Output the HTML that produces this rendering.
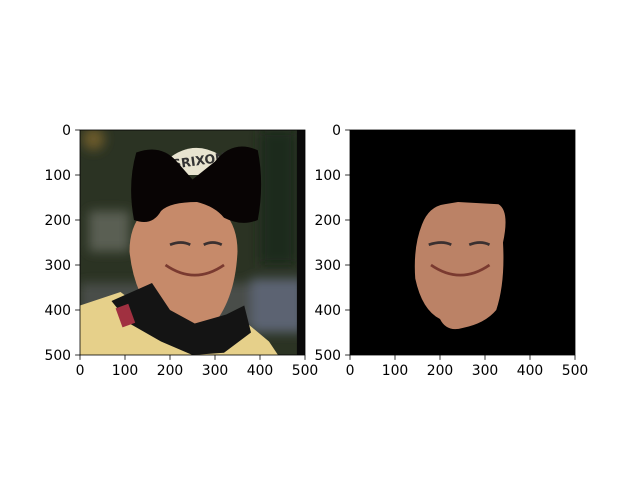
<!DOCTYPE html>
<html><head><meta charset="utf-8"><style>
body{margin:0;background:#fff}
svg text{font-family:"DejaVu Sans","Liberation Sans",sans-serif;font-size:13.9px;fill:#000}
</style></head><body>
<svg id="fig" width="640" height="480">
<defs>
<filter id="blur" x="-20%" y="-20%" width="140%" height="140%"><feGaussianBlur stdDeviation="12"/></filter>
<clipPath id="clipL"><rect x="0" y="0" width="500" height="500"/></clipPath>
</defs>
<g id="axL" transform="translate(80,130) scale(0.45)">
 <g clip-path="url(#clipL)">
  <rect width="500" height="500" fill="#2b3323"/>
  <g filter="url(#blur)">
   <rect x="20" y="180" width="90" height="90" fill="#5a5e52"/>
   <rect x="0" y="340" width="500" height="100" fill="#4a4d4a"/>
   <rect x="380" y="330" width="120" height="120" fill="#5c6472"/>
   <circle cx="30" cy="20" r="25" fill="#6a5a2a"/>
   <rect x="400" y="0" width="80" height="300" fill="#1e2a1c"/>
  </g>
  <rect x="482" y="0" width="18" height="500" fill="#0a0a0a"/>
  <path d="M110,270 Q110,160 230,140 Q350,160 350,270 Q345,380 290,440 Q235,470 180,430 Q120,370 110,270Z" fill="#c68a6a"/>
  <path d="M0,390 L90,360 L170,420 L260,480 L360,420 L420,470 L440,500 L0,500Z" fill="#e6d08a"/>
  <path d="M70,380 L160,340 L200,400 L255,430 L325,410 L365,390 L380,450 L320,495 L250,500 L180,470 L110,430Z" fill="#141414"/>
  <rect x="85" y="390" width="30" height="45" fill="#a03040" transform="rotate(-20 100 410)"/>
  <path d="M195,65 Q250,20 310,55 L300,100 L200,100Z" fill="#e8e4d0"/>
  <text x="205" y="80" style="font-size:28px;font-weight:bold;fill:#333" transform="rotate(-8 250 75)">SRIXON</text>
  <path d="M125,50 Q180,30 215,70 L250,110 L300,70 Q340,20 395,45 Q410,120 395,200 Q360,215 320,195 Q300,170 260,160 Q200,160 180,180 Q160,215 120,200 Q105,120 125,50Z" fill="#080404"/>
  <path d="M200,255 Q225,245 245,255 M275,255 Q295,245 315,255" stroke="#3a3030" stroke-width="6" fill="none"/>
  <path d="M190,300 Q255,345 320,300" stroke="#7a3a30" stroke-width="6" fill="none"/>
 </g>
</g>
<g id="axR" transform="translate(350,130) scale(0.45)">
 <rect width="500" height="500" fill="#000"/>
 <path d="M160,210 Q175,170 210,165 L240,160 L330,165 Q355,180 340,250 Q345,340 325,400 Q300,430 250,440 Q215,450 200,420 Q160,400 145,330 Q140,260 160,210Z" fill="#bb8266"/>
 <path d="M175,255 Q205,245 225,255 M265,255 Q290,245 310,255" stroke="#3a3030" stroke-width="6" fill="none"/>
 <path d="M180,300 Q245,345 310,300" stroke="#7a3a30" stroke-width="6" fill="none"/>
</g>
<g id="ticks"></g>
</svg>
<script>
const tickValues=[0,100,200,300,400,500];
const tickLabels=["0","100","200","300","400","500"];
const axesOrigins=[[80,130],[350,130]];
const sc=v=>v*0.45;
const NS="http://www.w3.org/2000/svg";
const g=document.getElementById('ticks');
axesOrigins.forEach((o,ai)=>{
  const f=document.createElementNS(NS,'rect');
  f.setAttribute('x',o[0]);f.setAttribute('y',o[1]);f.setAttribute('width',225);f.setAttribute('height',225);
  f.setAttribute('fill','none');f.setAttribute('stroke','#000');f.setAttribute('stroke-width','0.8');
  
  
  g.appendChild(f);
  tickValues.forEach((v,i)=>{
    const x=o[0]+sc(v), y=o[1]+sc(v);
    const lx=document.createElementNS(NS,'line');
    lx.setAttribute('x1',x);lx.setAttribute('x2',x);lx.setAttribute('y1',o[1]+225);lx.setAttribute('y2',o[1]+229.9);lx.setAttribute('stroke','#000');lx.setAttribute('stroke-width','0.8');
    
    
    g.appendChild(lx);
    const tx=document.createElementNS(NS,'text');
    tx.setAttribute('x',x);tx.setAttribute('y',o[1]+245);tx.setAttribute('text-anchor','middle');tx.textContent=tickLabels[i];
    
    
    g.appendChild(tx);
    const ly=document.createElementNS(NS,'line');
    ly.setAttribute('x1',o[0]-4.9);ly.setAttribute('x2',o[0]);ly.setAttribute('y1',y);ly.setAttribute('y2',y);ly.setAttribute('stroke','#000');ly.setAttribute('stroke-width','0.8');
    
    
    g.appendChild(ly);
    const ty=document.createElementNS(NS,'text');
    ty.setAttribute('x',o[0]-9);ty.setAttribute('y',y+5);ty.setAttribute('text-anchor','end');ty.textContent=tickLabels[i];
    
    
    g.appendChild(ty);
  });
});
</script>
</body></html>
